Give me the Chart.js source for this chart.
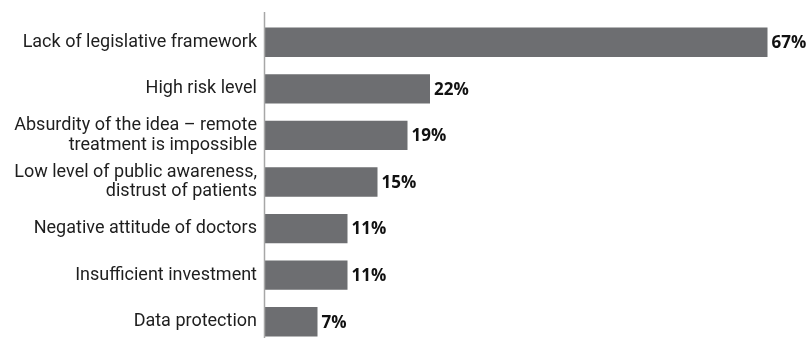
<!DOCTYPE html>
<html>
<head>
<meta charset="utf-8">
<script src="https://cdn.jsdelivr.net/npm/chart.js@4.4.0/dist/chart.umd.min.js"></script>
<style>
  html, body { margin: 0; padding: 0; background: #fff; overflow: hidden; }
  #wrap { position: relative; width: 811px; height: 345px; }
</style>
</head>
<body>
<div id="wrap"><canvas id="chart"></canvas></div>
<script>
// dados
const categories = [
  "Lack of legislative framework",
  "High risk level",
  ["Absurdity of the idea – remote", "treatment is impossible"],
  ["Low level of public awareness,", "distrust of patients"],
  "Negative attitude of doctors",
  "Insufficient investment",
  "Data protection"
];
const values = [67, 22, 19, 15, 11, 11, 7];
const valueLabels = ["67%", "22%", "19%", "15%", "11%", "11%", "7%"];

// rotulos de valor + linha do eixo
const valuePlugin = {
  id: 'valuePlugin',
  afterDatasetsDraw(chart) {
    const ctx = chart.ctx;
    const meta = chart.getDatasetMeta(0);
    ctx.save();
    ctx.font = 'bold 17px "Open Sans", sans-serif';
    ctx.fillStyle = '#111';
    ctx.textBaseline = 'middle';
    meta.data.forEach((bar, i) => {
      ctx.fillText(valueLabels[i], bar.x + 4, bar.y + 1);
    });
    // eixo vertical
    const x = chart.chartArea.left - 0.5;
    ctx.strokeStyle = '#a7a7a7';
    ctx.lineWidth = 1.5;
    ctx.beginPath();
    ctx.moveTo(x, 12);
    ctx.lineTo(x, chart.height);
    ctx.stroke();
    ctx.restore();
  }
};

new Chart(document.getElementById('chart'), {
  type: 'bar',
  data: {
    labels: categories,
    datasets: [{
      data: values,
      backgroundColor: '#6d6e71',
      barPercentage: 0.63,
      categoryPercentage: 1
    }]
  },
  options: {
    indexAxis: 'y',
    responsive: true,
    maintainAspectRatio: false,
    animation: false,
    layout: { padding: { top: 19, right: 21, left: 0, bottom: 0 } },
    plugins: {
      legend: { display: false },
      tooltip: { enabled: false }
    },
    scales: {
      x: {
        display: false,
        min: 0,
        max: 70
      },
      y: {
        grid: { display: false, drawTicks: false },
        border: { display: false },
        afterFit(scale) {
          scale.width = 265;
          scale.paddingTop = 0;
          scale.paddingBottom = 0;
        },
        ticks: {
          padding: 8,
          color: '#1e1e1e',
          font: { family: 'Roboto, sans-serif', size: 18, lineHeight: 1.08 }
        }
      }
    }
  },
  plugins: [valuePlugin]
});
</script>
</body>
</html>
